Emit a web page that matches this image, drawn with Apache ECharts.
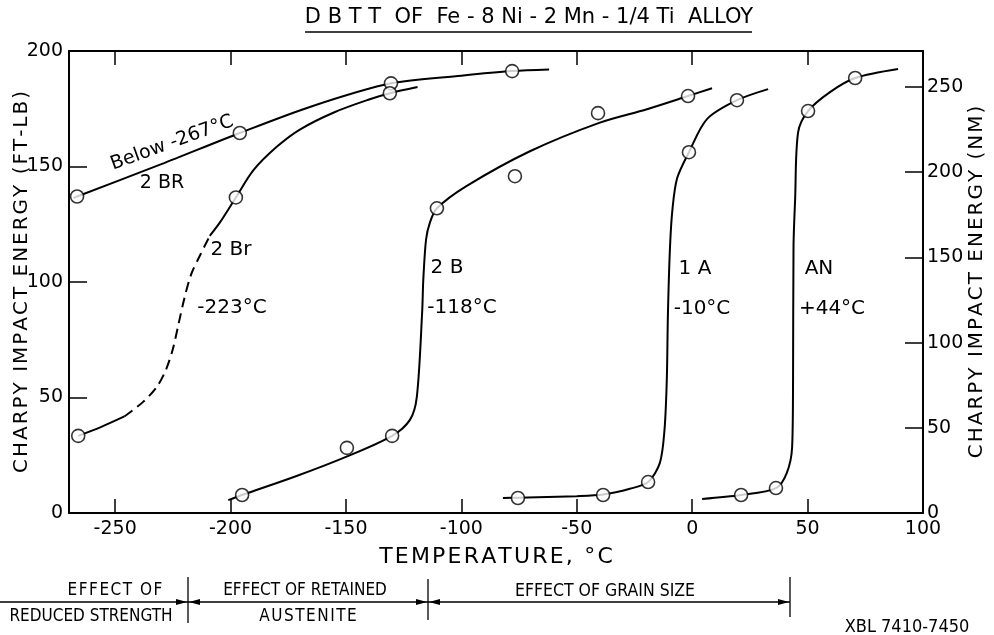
<!DOCTYPE html>
<html><head><meta charset="utf-8">
<script src="https://cdn.jsdelivr.net/npm/echarts@6/dist/echarts.min.js"></script>
<style>html,body{margin:0;padding:0;background:#fff}#c{width:994px;height:635px}</style>
</head><body><div id="c"></div>
<script>
// ---- data (temperature °C, energy ft-lb) ----
const xTickLabels = [-250, -200, -150, -100, -50, 0, 50, 100];
const ftlbTicks = [0, 50, 100, 150, 200];
const nmTicks = [0, 50, 100, 150, 200, 250];

// curve "Below -267°C 2BR"
const curve2BR = [[-268, 136.3], [-266.5, 137], [-230, 151], [-196, 164.5], [-165, 176], [-130.5, 186], [-100, 189.3], [-78, 191.3], [-62, 192]];
const pts2BR = [[-266.5, 137], [-196, 164.5], [-130.5, 186], [-78, 191.3]];

// curve "2 Br" (-223°C): solid low, dashed middle, solid high
const curve2BrLow = [[-266, 33.4], [-256, 37.3], [-246, 41.8]];
const curve2BrDash = [[-246, 41.8], [-238, 48], [-232, 54.5], [-228, 62], [-225, 71], [-222.5, 82], [-220, 93], [-217, 103.5], [-213, 112], [-209, 120]];
const curve2BrHigh = [[-209, 120], [-204.6, 125.8], [-197.7, 136.6], [-190, 148.5], [-180, 158.5], [-170, 166], [-155, 173.5], [-140, 179], [-131, 181.7], [-119, 184.4]];
const pts2Br = [[-266, 33.4], [-197.7, 136.6], [-131, 181.7]];

// curve "2 B" (-118°C)
const curve2B = [[-201, 5.6], [-195, 7.8], [-172, 15.8], [-150, 24.3], [-130, 33.4], [-122.3, 40.3], [-119.3, 50.3], [-117, 86.8], [-116.5, 101], [-115.3, 118.4], [-113.6, 125.8], [-110.6, 131.9], [-98, 141.4], [-70.3, 156.6], [-40, 169], [-19.6, 174.8], [-1.8, 180.5], [8.6, 183.9]];
const pts2B = [[-195, 7.8], [-149.6, 28.2], [-130, 33.4], [-110.6, 131.9], [-76.8, 145.8], [-40.8, 173.1], [-1.8, 180.5]];

// curve "1 A" (-10°C)
const curve1A = [[-82, 6.5], [-75.5, 6.6], [-50, 7.3], [-38.6, 8.0], [-27, 10.5], [-19.1, 13.4], [-14, 21.7], [-12, 36], [-11, 57.7], [-10.5, 86.8], [-9.6, 115.4], [-8.5, 132], [-6.5, 145], [-1.4, 156.2], [6.4, 170.5], [19.4, 178.7], [32.9, 183.5]];
const pts1A = [[-75.5, 6.5], [-38.6, 7.8], [-19.1, 13.4], [-1.4, 156.2], [19.4, 178.7]];

// curve "AN" (+44°C)
const curveAN = [[4.3, 6.1], [21.2, 7.8], [36.3, 10.8], [41, 17.4], [43.3, 28.6], [43.7, 57.7], [43.9, 115.4], [44.6, 135.8], [45.9, 164.9], [50.2, 174], [59.7, 182.2], [70.6, 188.3], [89.2, 192.2]];
const ptsAN = [[21.2, 7.8], [36.3, 10.8], [50.2, 174], [70.6, 188.3]];

const FT_TO_NM = 1.35582;
// ---- chart ----
const FONT = '"DejaVu Sans", "Liberation Sans", sans-serif';
const NARROW = '"DejaVu Sans Condensed", "Liberation Sans Narrow", sans-serif';
const HS = '\u200A';
const spaced = s => s.split('').join(HS);
const chart = echarts.init(document.getElementById('c'), null, {renderer: 'canvas'});

function lineSeries(data, dashed) {
  return {type: 'line', data: data, symbol: 'none', showSymbol: false, smooth: 0.3,
    lineStyle: {color: '#000', width: 2, type: dashed ? [10, 6] : 'solid'}, silent: true, z: 3};
}
function pointSeries(data) {
  return {type: 'scatter', data: data, symbol: 'circle', symbolSize: 13,
    itemStyle: {color: '#fff', borderColor: '#000', borderWidth: 1.6}, silent: true, z: 5};
}
const axisLineStyle = {show: true, onZero: false, lineStyle: {color: '#000', width: 2}};
const tickStyle = {lineStyle: {color: '#000', width: 1.5}};

function txt(text, x, y, size, fam, rot) {
  return {type: 'text', x: x, y: y, rotation: rot || 0, z: 10,
    style: {text: text, x: 0, y: 0, align: 'center', verticalAlign: 'middle', textAlign: 'center', textVerticalAlign: 'middle',
      fontSize: size, fontFamily: fam || FONT, fill: '#000'}};
}
function tri(pts) { return {type: 'polygon', z: 10, shape: {points: pts}, style: {fill: '#000'}}; }
function seg(x1, y1, x2, y2, w) { return {type: 'line', z: 10, shape: {x1: x1, y1: y1, x2: x2, y2: y2}, style: {stroke: '#000', lineWidth: w || 1.3}}; }

const option = {
  animation: false,
  backgroundColor: '#fff',
  grid: {left: 69, right: 71, top: 51, bottom: 122, containLabel: false, outerBoundsMode: 'none'},
  xAxis: [{
    type: 'value', position: 'bottom', min: -270, max: 100, splitNumber: 7,
    axisLine: axisLineStyle, axisTick: Object.assign({inside: true, length: 14}, tickStyle),
    axisLabel: {color: '#000', fontSize: 19, fontFamily: FONT, margin: 7,
      formatter: v => (xTickLabels.indexOf(v) >= 0 ? String(v) : '')},
    splitLine: {show: false},
    name: spaced('TEMPERATURE, °C'), nameLocation: 'middle', nameGap: 33, nameMoveOverlap: false,
    nameTextStyle: {color: '#000', fontSize: 22, fontFamily: FONT}
  }, {
    type: 'value', position: 'top', min: -270, max: 100, splitNumber: 7,
    axisLine: axisLineStyle, axisTick: Object.assign({inside: true, length: 14}, tickStyle),
    axisLabel: {show: false}, splitLine: {show: false}
  }],
  yAxis: [{
    type: 'value', position: 'left', min: 0, max: 200, interval: 50,
    axisLine: axisLineStyle, axisTick: Object.assign({show: true, inside: true, length: 18}, tickStyle),
    axisLabel: {color: '#000', fontSize: 19, fontFamily: FONT, margin: 6,
      formatter: v => (ftlbTicks.indexOf(v) >= 0 ? String(v) : '')},
    splitLine: {show: false},
    name: spaced('CHARPY IMPACT ENERGY (FT-LB)'), nameLocation: 'middle', nameGap: 37, nameRotate: 90, nameMoveOverlap: false,
    nameTextStyle: {color: '#000', fontSize: 20, fontFamily: FONT}
  }, {
    type: 'value', position: 'right', min: 0, max: 200 * FT_TO_NM, interval: 50,
    axisLine: axisLineStyle, axisTick: Object.assign({show: true, inside: true, length: 18}, tickStyle),
    axisLabel: {color: '#000', fontSize: 19, fontFamily: FONT, margin: 4, showMaxLabel: false,
      formatter: v => (nmTicks.indexOf(v) >= 0 ? String(v) : '')},
    splitLine: {show: false},
    name: spaced('CHARPY IMPACT ENERGY (NM)'), nameLocation: 'middle', nameGap: 44, nameRotate: 90, nameMoveOverlap: false,
    nameTextStyle: {color: '#000', fontSize: 20, fontFamily: FONT}
  }],
  series: [
    lineSeries(curve2BR), lineSeries(curve2BrLow), lineSeries(curve2BrDash, true), lineSeries(curve2BrHigh),
    lineSeries(curve2B), lineSeries(curve1A), lineSeries(curveAN),
    pointSeries(pts2BR), pointSeries(pts2Br), pointSeries(pts2B), pointSeries(pts1A), pointSeries(ptsAN)
  ],
  graphic: [
    txt('D B T T  OF  Fe - 8 Ni - 2 Mn - 1/4 Ti  ALLOY', 529, 18, 21),
    seg(305, 32, 752, 32, 1.5),
    txt('Below -267°C', 172, 143, 19, FONT, 20 * Math.PI / 180),
    txt('2 BR', 162, 183, 19),
    txt('2 Br', 231, 250, 20),
    txt('-223°C', 232, 308, 20),
    txt('2 B', 447, 268, 20),
    txt('-118°C', 462, 308, 20),
    txt('1 A', 695, 269, 20),
    txt('-10°C', 702, 309, 20),
    txt('AN', 819, 269, 20),
    txt('+44°C', 832, 309, 20),
    // bottom annotations
    txt(spaced('EFFECT OF'), 115, 591, 17, NARROW),
    txt('REDUCED STRENGTH', 91, 617, 17, NARROW),
    txt('EFFECT OF RETAINED', 305, 591, 17, NARROW),
    txt(spaced('AUSTENITE'), 308, 617, 17, NARROW),
    txt('EFFECT OF GRAIN SIZE', 605, 591, 17.5, NARROW),
    txt('XBL 7410-7450', 907, 627, 18, NARROW),
    seg(0, 602, 790, 602, 1.3),
    seg(188, 577, 188, 623, 1.3),
    seg(428, 579, 428, 620, 1.3),
    seg(790, 577, 790, 617, 1.3),
    tri([[176, 599], [187, 602], [176, 605]]),
    tri([[200, 599], [189, 602], [200, 605]]),
    tri([[416, 599], [427, 602], [416, 605]]),
    tri([[440, 599], [429, 602], [440, 605]]),
    tri([[778, 599], [789, 602], [778, 605]])
  ]
};
chart.setOption(option);
</script>
</body></html>
